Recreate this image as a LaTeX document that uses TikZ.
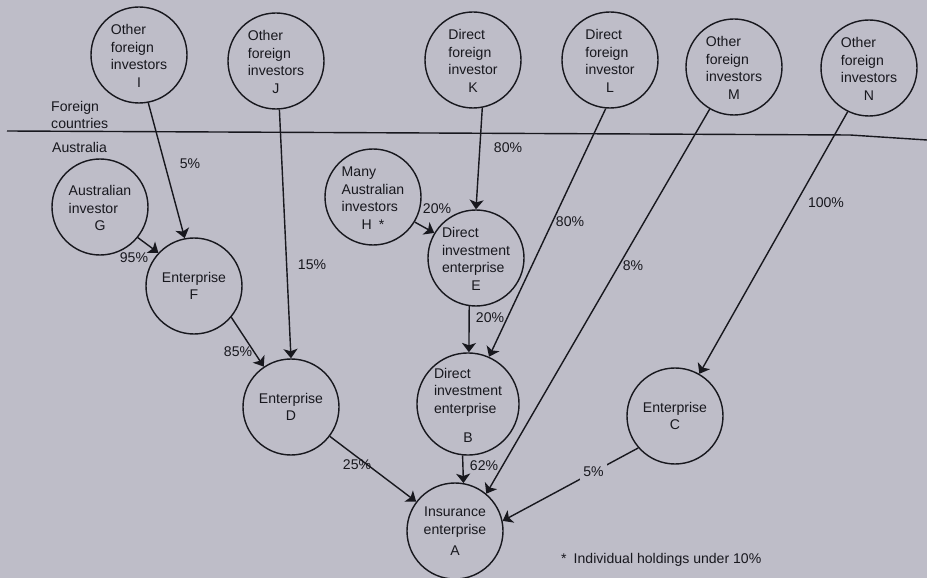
\documentclass[tikz,border=0pt]{standalone}
\usepackage{fontspec}
\setmainfont{Liberation Sans}
\usetikzlibrary{arrows.meta}

\definecolor{scanbg}{RGB}{190,189,200}
\definecolor{ink}{RGB}{24,24,30}

% holder text: lines set flush left, letter centred below
\newcommand{\holder}[2]{\begin{tabular}[b]{@{}l@{}}#1\end{tabular}\\#2}

\tikzset{
  every node/.style={font=\fontsize{12}{15}\selectfont, text=ink},
  party/.style={circle, draw=ink, line width=1.2pt, minimum size=28.8mm,
    inner sep=0pt, align=center},
  share/.style={draw=ink, line width=1.2pt,
    -{Stealth[length=2.8mm, width=4.2mm, inset=0.7mm]}},
  pct/.style={inner sep=1pt},
  plain/.style={inner sep=0pt, align=left},
}

\begin{document}
\begin{tikzpicture}[x=0.3mm, y=-0.3mm]
  \fill[scanbg] (0,0) rectangle (927,578);
  \useasboundingbox (0,0) rectangle (927,578);

  % ── Border between foreign countries and Australia ─────────────────
  \coordinate (westEdge) at (7,131);
  \coordinate (bend)     at (850,135);
  \coordinate (eastEdge) at (927,140);
  \draw[ink, line width=1.2pt] (westEdge) -- (bend) -- (eastEdge);

  \node[plain, anchor=west] (foreign)   at (51,115) {Foreign\\countries};
  \node[plain, anchor=west] (australia) at (52,147) {Australia};

  % ── Foreign investors ──────────────────────────────────────────────
  \node[party] (I) at (139,55) {\holder{Other\\foreign\\investors}{I}};
  \node[party] (J) at (276,61) {\holder{Other\\foreign\\investors}{J}};
  \node[party] (K) at (473,60) {\holder{Direct\\foreign\\investor}{K}};
  \node[party] (L) at (610,60) {\holder{Direct\\foreign\\investor}{L}};
  \node[party] (M) at (734,67) {\holder{Other\\foreign\\investors}{M}};
  \node[party] (N) at (869,68) {\holder{Other\\foreign\\investors}{N}};

  % ── Australian investors and enterprises ───────────────────────────
  \node[party] (G) at (100,207) {\holder{Australian\\investor}{G}};
  \node[party] (H) at (373,197) {\holder{Many\\Australian\\investors}{H\enspace*}};
  \node[party] (E) at (476,258) {\holder{Direct\\investment\\enterprise}{E}};
  \node[party] (F) at (194,286) {Enterprise\\F};
  \node[party] (D) at (291,407) {Enterprise\\D};
  \node[party] (B) at (468,404) {\holder{Direct\\investment\\enterprise}{\rule{0pt}{19pt}B}};
  \node[party] (C) at (675,416) {Enterprise\\C};
  \node[party] (A) at (455,531) {Insurance\\enterprise\\[3pt]A};

  % ── Holdings ───────────────────────────────────────────────────────
  \draw[share] (I.281) -- (F.101);
  \draw[share] (G.321) -- (F.137);
  \draw[share] (J.274) -- (D.90);
  \draw[share] (F.320) -- (D.124);
  \draw[share] (K.281) -- (E.90);
  \draw[share] (H.329) -- (E.149);
  \draw[share] (L.265) -- (B.66);
  \draw[share] (E.262) -- (B.89);
  \draw[share] (M.240) -- (A.50);
  \draw[share] (N.244) -- (C.60);
  \draw[share] (D) -- (A);
  \draw[share] (B.264) -- (A.80);
  \draw[share] (C.221) -- node[pos=0.33, fill=scanbg, inner sep=3pt] (pCA) {5\%} (A.12);

  \node[pct] (pIF) at (190,164) {5\%};
  \node[pct] (pGF) at (134,258) {95\%};
  \node[pct] (pJD) at (312,265) {15\%};
  \node[pct] (pFD) at (238,352) {85\%};
  \node[pct] (pKE) at (508,148) {80\%};
  \node[pct] (pHE) at (437,209) {20\%};
  \node[pct] (pLB) at (570,222) {80\%};
  \node[pct] (pEB) at (490,318) {20\%};
  \node[pct] (pMA) at (633,266) {8\%};
  \node[pct] (pNC) at (826,203) {100\%};
  \node[pct] (pDA) at (357,465) {25\%};
  \node[pct] (pBA) at (484,466) {62\%};

  \node[plain, anchor=west] (note) at (561,560) {*\enspace Individual holdings under 10\%};
\end{tikzpicture}
\end{document}
